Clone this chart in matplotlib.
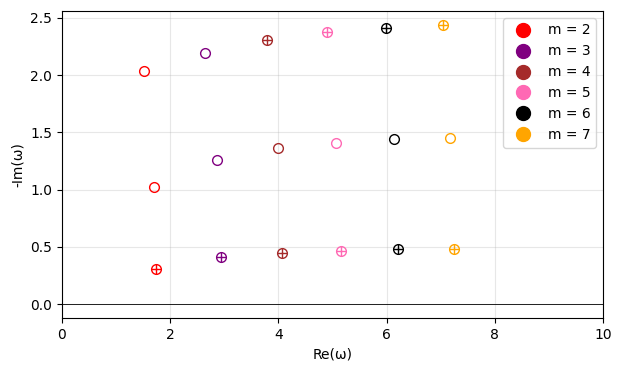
import matplotlib.pyplot as plt
from matplotlib.lines import Line2D

m_values = [2, 3, 4, 5, 6, 7]
colors = ['red', 'purple', 'brown', 'hotpink', 'black', 'orange']

# three overtones, one point per m
re_top = [1.515, 2.646, 3.790, 4.904, 5.993, 7.050]
im_top = [2.035, 2.194, 2.308, 2.375, 2.416, 2.439]
re_mid = [1.705, 2.856, 3.987, 5.063, 6.133, 7.179]
im_mid = [1.024, 1.259, 1.366, 1.410, 1.439, 1.453]
re_low = [1.731, 2.948, 4.066, 5.149, 6.207, 7.253]
im_low = [0.3025, 0.407, 0.4455, 0.466, 0.477, 0.483]

# which points carry the cross
cross_top = [False, False, True, True, True, True]
cross_mid = [False] * 6
cross_low = [True] * 6

fig = plt.figure(figsize=(6.22, 3.71), dpi=100)
ax = fig.add_axes([62 / 622, 53 / 371, 541 / 622, 307 / 371])

for re, im, cross in [(re_top, im_top, cross_top), (re_mid, im_mid, cross_mid), (re_low, im_low, cross_low)]:
    for i, c in enumerate(colors):
        ax.plot(re[i], im[i], 'o', markersize=7, markerfacecolor='none', markeredgecolor=c, markeredgewidth=1.0)
        if cross[i]:
            ax.plot(re[i], im[i], '+', markersize=7, color=c, markeredgewidth=1.0)

ax.axhline(0, color='black', linewidth=0.6)
ax.set_xlim(0, 10)
ax.set_xlabel('Re(ω)')
ax.set_ylabel('-Im(ω)')
ax.grid(True, alpha=0.3)

handles = [Line2D([], [], marker='o', linestyle='none', markersize=10, color=c) for c in colors]
ax.legend(handles, ['m = ' + str(m) for m in m_values], loc='upper right')

fig.savefig('out.png', dpi=100)
